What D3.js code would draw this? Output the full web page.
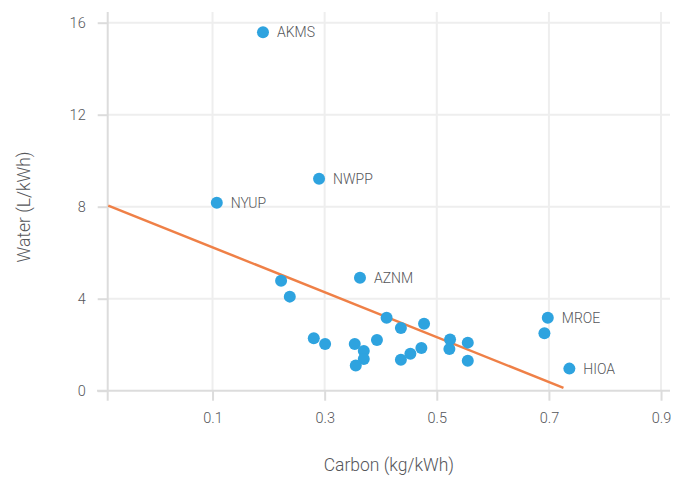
<!DOCTYPE html>
<html>
<head>
<meta charset="utf-8">
<script src="https://cdn.jsdelivr.net/npm/d3@7"></script>
<style>
  html, body { margin: 0; padding: 0; background: #fff; }
  svg text { font-family: Roboto, "Noto Sans", sans-serif; font-weight: 300; fill: #55565a; }
</style>
</head>
<body>
<svg id="chart" width="684" height="477"></svg>
<script>
// Data
const carbon = [0.190, 0.1076, 0.290, 0.363, 0.698, 0.692, 0.7365,
  0.2223, 0.2378, 0.2806, 0.3008, 0.3537, 0.3698, 0.3698, 0.3555, 0.3933,
  0.4105, 0.436, 0.436, 0.4529, 0.4725, 0.4773, 0.5237, 0.5225, 0.5553, 0.5553];
const water = [15.58, 8.17, 9.22, 4.91, 3.17, 2.50, 0.96,
  4.78, 4.09, 2.28, 2.03, 2.03, 1.73, 1.38, 1.10, 2.20,
  3.17, 2.73, 1.35, 1.61, 1.86, 2.91, 2.23, 1.81, 2.09, 1.30];
const labels = ["AKMS", "NYUP", "NWPP", "AZNM", "MROE", "", "HIOA",
  "", "", "", "", "", "", "", "", "", "", "", "", "", "", "", "", "", "", ""];
const trendX = [-0.086, 0.726];
const trendY = [8.05, 0.12];
const xTicks = [0.1, 0.3, 0.5, 0.7, 0.9];
const yTicks = [0, 4, 8, 12, 16];
const xTitle = "Carbon (kg/kWh)";
const yTitle = "Water (L/kWh)";

const svg = d3.select("#chart");
const pL = 107.7, pR = 670, pT = 12, pB = 390.7;
const x = d3.scaleLinear().domain([-0.087, 0.916]).range([pL, pR]);
const y = d3.scaleLinear().domain([0, 16.465]).range([pB, pT]);

const grid = svg.append("g");
grid.selectAll(".vg").data(xTicks).join("line")
  .attr("x1", d => x(d)).attr("x2", d => x(d))
  .attr("y1", pT).attr("y2", pB)
  .attr("stroke", "#eeeeee").attr("stroke-width", 2);
grid.selectAll(".hg").data(yTicks.filter(d => d > 0)).join("line")
  .attr("x1", pL).attr("x2", pR)
  .attr("y1", d => y(d)).attr("y2", d => y(d))
  .attr("stroke", "#eeeeee").attr("stroke-width", 2);

// X axis
const xAxis = svg.append("g").attr("transform", `translate(0,${pB})`)
  .call(d3.axisBottom(x).tickValues(xTicks).tickFormat(d3.format(".1f")).tickSize(10).tickPadding(12));
xAxis.select(".domain").remove();
xAxis.append("line").attr("x1", pL - 10.7).attr("x2", pR).attr("y1", 0).attr("y2", 0)
  .attr("stroke", "#dcdcdc").attr("stroke-width", 2);
xAxis.selectAll(".tick line").attr("stroke", "#dcdcdc").attr("stroke-width", 2);
xAxis.selectAll(".tick text").attr("font-size", 14.5).attr("fill", "#55565a")
  .attr("font-family", "Roboto").attr("font-weight", 300);

// Y axis
const yAxis = svg.append("g").attr("transform", `translate(${pL},0)`)
  .call(d3.axisLeft(y).tickValues(yTicks).tickSize(10).tickPadding(12));
yAxis.select(".domain").remove();
yAxis.append("line").attr("x1", 0).attr("x2", 0).attr("y1", pT).attr("y2", pB + 10)
  .attr("stroke", "#dcdcdc").attr("stroke-width", 2);
yAxis.selectAll(".tick line").attr("stroke", "#dcdcdc").attr("stroke-width", 2);
yAxis.selectAll(".tick text").attr("font-size", 14.5).attr("fill", "#55565a")
  .attr("font-family", "Roboto").attr("font-weight", 300);

// trend line
svg.append("line")
  .attr("x1", x(trendX[0])).attr("y1", y(trendY[0]))
  .attr("x2", x(trendX[1])).attr("y2", y(trendY[1]))
  .attr("stroke", "#ef8047").attr("stroke-width", 2.5);

// points
const pts = carbon.map((c, i) => ({c, w: water[i], l: labels[i]}));
svg.selectAll("circle.pt").data(pts).join("circle")
  .attr("class", "pt")
  .attr("cx", d => x(d.c)).attr("cy", d => y(d.w)).attr("r", 6)
  .attr("fill", "#2ea3df");

svg.selectAll("text.lbl").data(pts.filter(d => d.l)).join("text")
  .attr("class", "lbl")
  .attr("x", d => x(d.c) + 14).attr("y", d => y(d.w) + 5)
  .attr("font-size", 14)
  .text(d => d.l);

// titles
svg.append("text").attr("x", (pL + pR) / 2).attr("y", 471)
  .attr("text-anchor", "middle").attr("font-size", 17.5).text(xTitle);
svg.append("text").attr("transform", `translate(30,207) rotate(-90)`)
  .attr("text-anchor", "middle").attr("font-size", 17.5).text(yTitle);
</script>
</body>
</html>
